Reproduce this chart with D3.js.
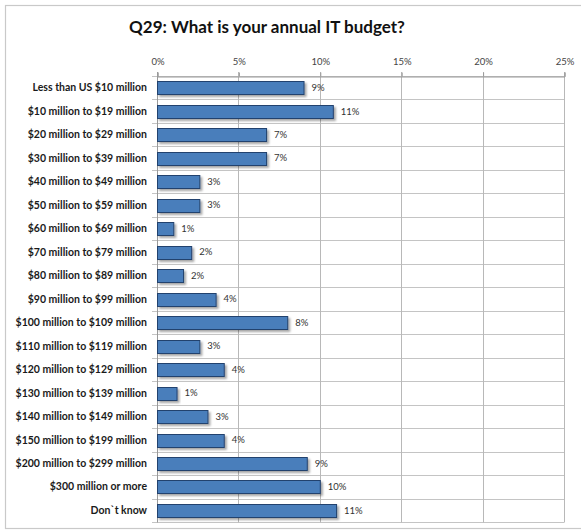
<!DOCTYPE html>
<html>
<head>
<meta charset="utf-8">
<script src="https://cdn.jsdelivr.net/npm/d3@7"></script>
<style>
  html, body { margin: 0; padding: 0; background: #fff; }
  svg { display: block; }
</style>
</head>
<body>
<div id="chart"></div>
<script>
// Survey answers: annual IT budget bands and share of respondents (%)
const categories = [
  "Less than US $10 million",
  "$10 million to $19 million",
  "$20 million to $29 million",
  "$30 million to $39 million",
  "$40 million to $49 million",
  "$50 million to $59 million",
  "$60 million to $69 million",
  "$70 million to $79 million",
  "$80 million to $89 million",
  "$90 million to $99 million",
  "$100 million to $109 million",
  "$110 million to $119 million",
  "$120 million to $129 million",
  "$130 million to $139 million",
  "$140 million to $149 million",
  "$150 million to $199 million",
  "$200 million to $299 million",
  "$300 million or more",
  "Don`t know"
];
const shares = [9.0, 10.8, 6.7, 6.7, 2.6, 2.6, 1.0, 2.1, 1.6, 3.6, 8.0, 2.6, 4.1, 1.2, 3.1, 4.1, 9.2, 10.0, 11.0];
const tickValues = [0, 5, 10, 15, 20, 25];
const title = "Q29: What is your annual IT budget?";

const W = 581, H = 531;
const margin = { left: 157, right: 17, top: 76, bottom: 9 };

const svg = d3.select("#chart").append("svg")
  .attr("width", W).attr("height", H);

// drop shadow used on the bars
const defs = svg.append("defs");
const f = defs.append("filter").attr("id", "shadow")
  .attr("x", "-10%").attr("y", "-30%").attr("width", "130%").attr("height", "180%");
f.append("feDropShadow").attr("dx", 2).attr("dy", 2).attr("stdDeviation", 1.2)
  .attr("flood-color", "#000").attr("flood-opacity", 0.35);

// outer chart frame
svg.append("rect")
  .attr("x", 5.5).attr("y", 5.5).attr("width", W + 10).attr("height", 523)
  .attr("fill", "#fff").attr("stroke", "#c9c9c9").attr("stroke-width", 1.2);

svg.append("text")
  .attr("x", 267).attr("y", 33)
  .attr("text-anchor", "middle")
  .attr("font-family", "Lato, 'Open Sans', sans-serif")
  .attr("font-weight", "bold")
  .attr("font-size", 17)
  .attr("fill", "#111")
  .text(title);

const x = d3.scaleLinear().domain([0, 25]).range([margin.left, W - margin.right]);
const y = d3.scaleBand().domain(categories)
  .range([margin.top, H - margin.bottom]).paddingInner(0.46).paddingOuter(0.23);

const gridColor = "#c4c4c4";

// horizontal row separators (and their tick stubs left of the axis)
const step = y.step();
const rowEdges = d3.range(categories.length + 1).map(i => y.range()[0] + i * step);
svg.append("g").selectAll("line").data(rowEdges).join("line")
  .attr("x1", margin.left - 5).attr("x2", x(25))
  .attr("y1", d => Math.round(d) + 0.5).attr("y2", d => Math.round(d) + 0.5)
  .attr("stroke", gridColor).attr("stroke-width", 1);

// vertical gridlines
svg.append("g").selectAll("line").data(tickValues).join("line")
  .attr("x1", d => Math.round(x(d)) + 0.5).attr("x2", d => Math.round(x(d)) + 0.5)
  .attr("y1", margin.top - 4).attr("y2", Math.round(rowEdges[rowEdges.length - 1]) + 0.5)
  .attr("stroke", d => d === 0 ? "#9a9a9a" : "#b8b8b8").attr("stroke-width", 1);

// top value axis
const xAxis = d3.axisTop(x).tickValues(tickValues).tickFormat(d => d + "%").tickSize(4).tickPadding(8);
const gx = svg.append("g").attr("transform", `translate(0.5,${Math.round(margin.top) + 0.5})`).call(xAxis);
gx.select(".domain").attr("stroke", "#9a9a9a");
gx.selectAll(".tick line").attr("stroke", "#9a9a9a");
gx.selectAll("text")
  .attr("font-family", "Lato, 'Open Sans', sans-serif")
  .attr("font-size", 9.5).attr("fill", "#444");

// category labels
svg.append("g").selectAll("text").data(categories).join("text")
  .attr("x", margin.left - 10)
  .attr("y", d => y(d) + y.bandwidth() / 2)
  .attr("dy", "0.35em")
  .attr("text-anchor", "end")
  .attr("font-family", "Lato, 'Open Sans', sans-serif")
  .attr("font-weight", "bold")
  .attr("font-size", 10.5)
  .attr("fill", "#1a1a1a")
  .text(d => d);

// bars
svg.append("g").selectAll("rect").data(shares).join("rect")
  .attr("x", margin.left + 0.5)
  .attr("y", (d, i) => Math.round(y(categories[i])) + 0.5)
  .attr("width", d => x(d) - x(0))
  .attr("height", Math.round(y.bandwidth()))
  .attr("fill", "#4a7ebb")
  .attr("stroke", "#22426e")
  .attr("stroke-width", 1)
  .attr("filter", "url(#shadow)");

// value labels
svg.append("g").selectAll("text").data(shares).join("text")
  .attr("x", d => x(d) + 8)
  .attr("y", (d, i) => y(categories[i]) + y.bandwidth() / 2)
  .attr("dy", "0.35em")
  .attr("font-family", "Lato, 'Open Sans', sans-serif")
  .attr("font-size", 9.5)
  .attr("fill", "#333")
  .text(d => Math.round(d) + "%");
</script>
</body>
</html>
